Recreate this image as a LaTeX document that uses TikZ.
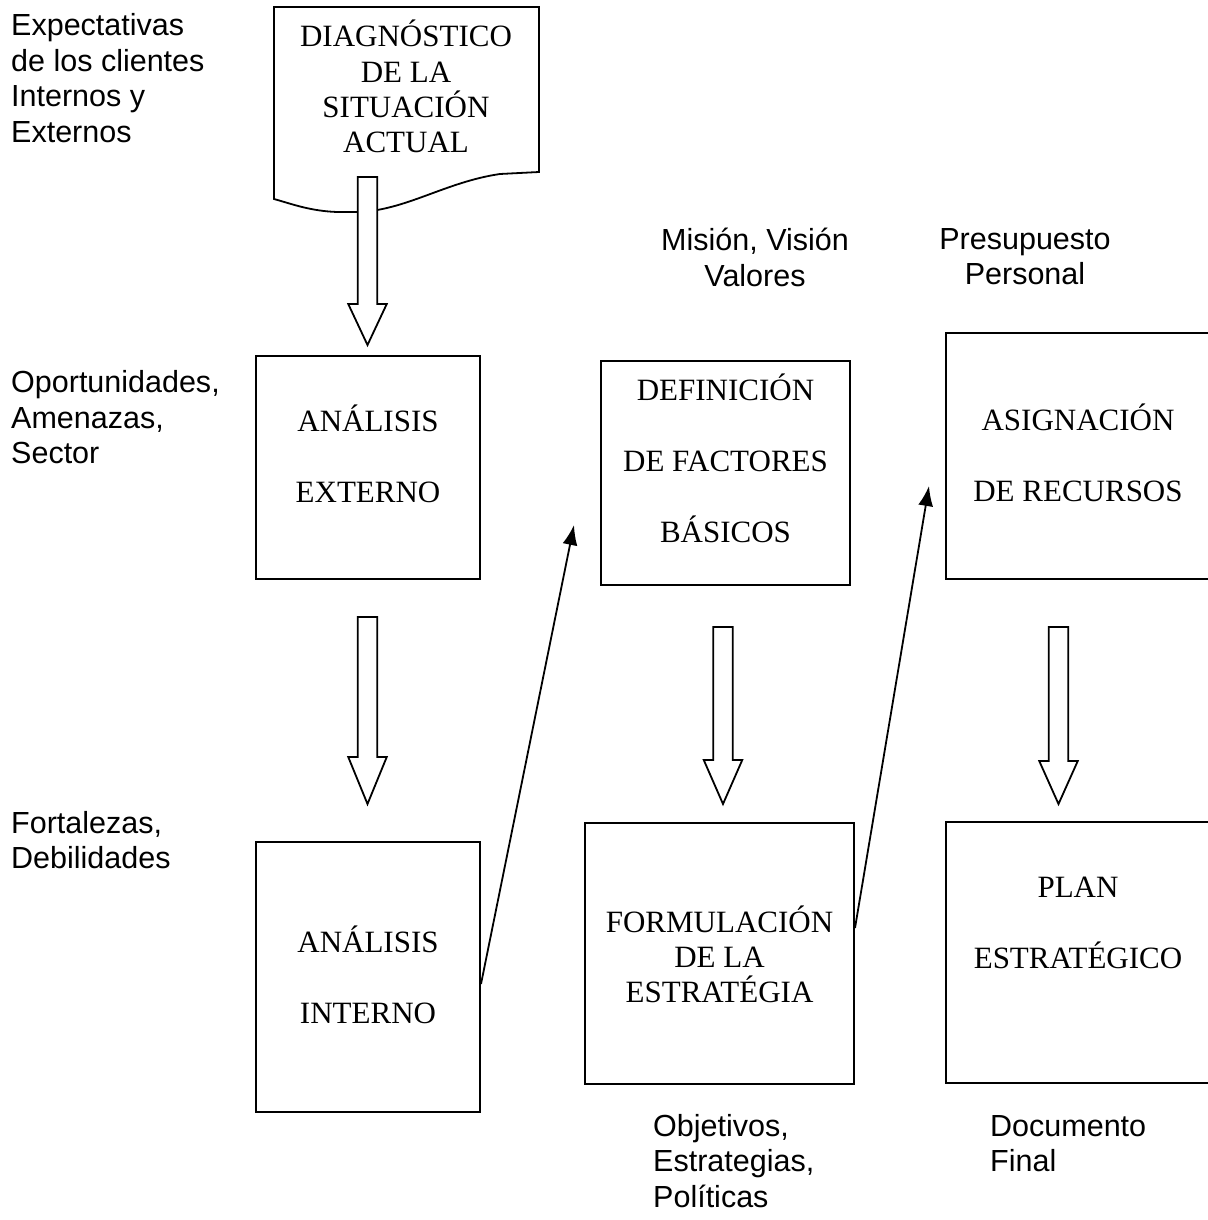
\documentclass[tikz,border=0pt]{standalone}
\usepackage{fontspec}
\setmainfont{Liberation Serif}
\setsansfont{Liberation Sans}
\usetikzlibrary{arrows.meta}

% hollow block arrow pointing down: {centre x}{shaft top}{head start}{tip}
\newcommand\hollowdown[4]{%
  \draw[blockarrow] (#1-9.75,#2) -- (#1+9.75,#2) -- (#1+9.75,#3) -- (#1+19.25,#3)
    -- (#1,#4) -- (#1-19.25,#3) -- (#1-9.75,#3) -- cycle;}

\begin{document}
\begin{tikzpicture}[x=1pt,y=-1pt,
  stagebox/.style={draw,line width=2pt,rectangle,inner sep=0pt},
  stagetext/.style={align=center,inner sep=0pt,font=\fontsize{31}{71}\selectfont},
  tighttext/.style={align=center,inner sep=0pt,font=\fontsize{31}{35.3}\selectfont},
  note/.style={inner sep=0pt,font=\sffamily\fontsize{30.5}{35.5}\selectfont},
  blockarrow/.style={draw,fill=white,line width=1.8pt,line join=miter},
  thinarrow/.style={line width=1.8pt,-{Latex[length=20pt,width=15pt]}}]
\useasboundingbox (0,0) rectangle (1207,1220);

% document symbol with wavy lower edge
\draw[line width=1.8pt,line join=miter] (274,7) -- (539,7) -- (539,172) -- (500,174)
  .. controls (445,182) and (405,211) .. (357,212) -- (337,212)
  .. controls (310,211) and (292,204) .. (274,199) -- cycle;
\node[tighttext] (diag) at (406,86.5) {DIAGNÓSTICO\\DE LA\\SITUACIÓN\\ACTUAL};

% stage boxes
\node[stagebox,minimum width=224,minimum height=223] (ext)  at (368,467.5) {};
\node[stagebox,minimum width=249,minimum height=224] (def)  at (725.5,473) {};
\node[stagebox,minimum width=274,minimum height=246] (asig) at (1083,456) {};
\node[stagebox,minimum width=224,minimum height=270] (int)  at (368,977) {};
\node[stagebox,minimum width=269,minimum height=261] (form) at (719.5,953.5) {};
\node[stagebox,minimum width=274,minimum height=261] (plan) at (1083,952.5) {};

\node[stagetext] (extT)  at (368,453.5)  {ANÁLISIS\\EXTERNO};
\node[stagetext] (defT)  at (725.5,458.5) {DEFINICIÓN\\DE FACTORES\\BÁSICOS};
\node[stagetext] (asigT) at (1078,453)   {ASIGNACIÓN\\DE RECURSOS};
\node[stagetext] (intT)  at (368,975)    {ANÁLISIS\\INTERNO};
\node[tighttext] (formT) at (719.5,954.5) {FORMULACIÓN\\DE LA\\ESTRATÉGIA};
\node[stagetext] (planT) at (1078,922.5) {PLAN\\ESTRATÉGICO};

% downward block arrows
\hollowdown{367.5}{177}{304}{345}
\hollowdown{367.5}{617}{757}{804}
\hollowdown{723}{627}{760}{804}
\hollowdown{1058.5}{627}{761}{804}

% thin arrows
\coordinate (t1) at (574,525);
\coordinate (t2) at (929,486);
\draw[thinarrow] ([yshift=-7pt]int.east) -- (t1);
\draw[thinarrow] ([yshift=25.5pt]form.east) -- (t2);

% side notes
\node[note,align=left,anchor=north west] (n1) at (11,13.2) {Expectativas\\de los clientes\\Internos y\\Externos};
\node[note,align=left,anchor=north west] (n2) at (11,370.5) {Oportunidades,\\Amenazas,\\Sector};
\node[note,align=left,anchor=north west] (n3) at (11,811) {Fortalezas,\\Debilidades};
\node[note,align=center,anchor=north] (n4) at (755,228) {Misión, Visión\\Valores};
\node[note,align=center,anchor=north] (n5) at (1025,228) {Presupuesto\\Personal};
\node[note,align=left,anchor=north west] (n6) at (653,1114) {Objetivos,\\Estrategias,\\Políticas};
\node[note,align=left,anchor=north west] (n7) at (990,1115) {Documento\\Final};
\end{tikzpicture}
\end{document}
